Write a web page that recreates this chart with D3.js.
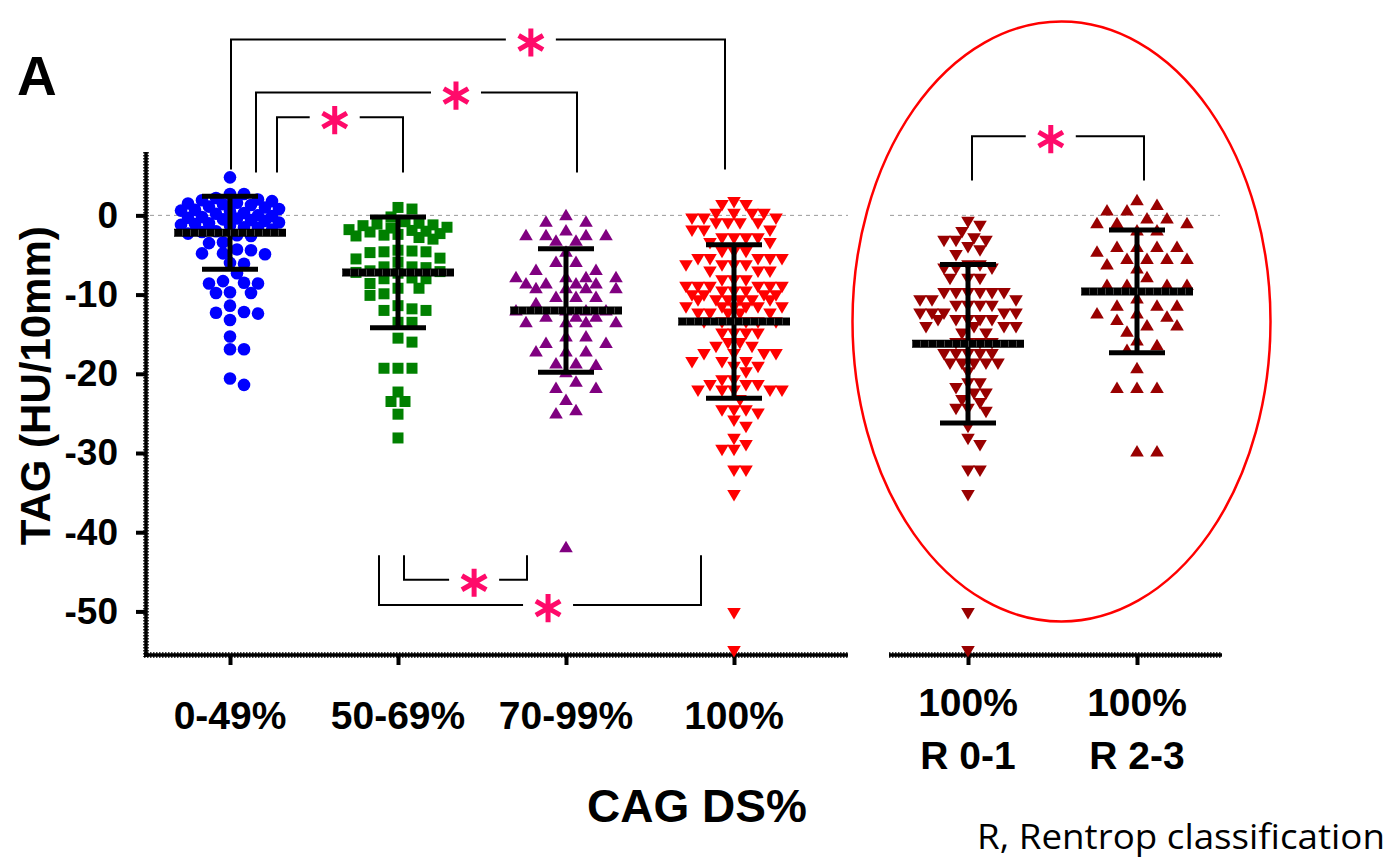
<!DOCTYPE html>
<html>
<head>
<meta charset="utf-8">
<script src="https://cdn.jsdelivr.net/npm/d3@7"></script>
<style>
body { margin: 0; background: #fff; }
svg { display: block; font-family: "Liberation Sans", Arial, sans-serif; }
</style>
</head>
<body>
<div id="chart"></div>
<script>
// --- data (TAG, HU/10mm)
const leftCats = ['0-49%', '50-69%', '70-99%', '100%'];
const rightCats = ['R 0-1', 'R 2-3'];
const rightLabels = [['100%', 'R 0-1'], ['100%', 'R 2-3']];
const yTicks = [0, -10, -20, -30, -40, -50];

const tag049 = [4.8, 2.7, 2.7, 1.5, 1.9,
    2.2, 2.0, 1.8, 1.6, 1.3, 1.1, 1.0, 0.8, 0.6, 0.5, 0.3, 0.2, 0.0, -0.1, -0.3, -0.4, -0.6, -0.7,
    -0.9, -1.0, -1.2, -1.3, -1.5, -1.6, -1.8, -2.0, -2.1, -2.3, -2.5, -2.6, -0.5, 0.7, 1.4, -1.1, -0.2,
    -3.5, -3.4, -4.4, -4.3, -4.8, -4.8, -4.9, -6.1, -6.0, -7.3, -8.3, -8.6, -8.6, -8.5, -9.8, -9.8, -9.7,
    -11.4, -12.3, -12.2, -12.4, -13.2, -15.3, -16.9, -16.9, -20.6, -21.4];
const tag5069 = [1.0, 0.8, -0.2,
    -0.8, -1.0, -1.2, -1.3, -1.5, -1.6, -1.8, -2.0, -2.1, -2.3, -2.5, -2.6, -2.8, -3.0, -1.1, -1.9, -2.4,
    -4.6, -4.5, -4.7, -4.6, -4.4, -5.5, -5.4, -5.9, -6.5, -6.5, -6.6, -7.2, -7.1, -7.3, -7.0,
    -8.0, -8.0, -7.9, -8.6, -9.2, -9.2, -9.9, -10.1, -11.4, -11.8, -12.0, -12.0, -13.5, -13.5,
    -15.5, -16.0, -19.3, -19.3, -19.3, -22.3, -23.5, -23.5, -25.1, -28.1];
const tag7099 = [0.0, -0.8, -0.8, -1.9, -2.5, -2.5, -2.5, -2.5, -3.2, -3.2, -4.6, -5.9, -5.9, -6.9, -6.9,
    -7.8, -7.8, -7.8, -7.8, -8.6, -8.6, -8.6, -8.6, -9.2, -9.2, -9.2, -9.2, -10.3, -10.3, -10.3, -11.1,
    -12.0, -12.0, -12.0, -12.0, -12.8, -12.8, -12.8, -13.5, -13.5, -13.5, -13.5, -15.3, -15.3,
    -16.1, -16.1, -17.2, -17.2, -17.2, -18.7, -18.7, -18.9, -19.8, -21.0, -21.8, -21.8, -23.3, -24.6, -25.0, -41.9];
const tag100 = [1.7, 1.3, 1.3, 0.2, 0.2, 0.2, 0.2, -0.4, -0.4, -0.4, -1.0, -1.0, -1.0, -1.0, -1.9, -1.9, -1.9,
    -2.9, -2.9, -2.9, -2.9, -3.5, -3.5, -4.6, -4.6, -4.6, -5.5, -5.5, -5.5, -5.5, -5.5, -6.3, -6.3, -6.3, -6.3,
    -7.1, -7.1, -7.1, -8.2, -8.2, -8.2, -9.0, -9.0, -9.0, -9.0, -9.0, -9.0, -9.6, -9.6, -9.6,
    -10.1, -10.1, -10.1, -10.1, -10.7, -10.7, -10.7, -10.7, -10.7, -10.7, -11.6, -11.6, -11.6, -11.6, -11.6, -11.6,
    -12.4, -12.4, -12.4, -12.4, -12.4, -13.5, -13.5, -13.5, -13.5, -13.5, -13.5, -14.9, -14.9, -14.9, -14.9,
    -16.1, -16.1, -16.6, -16.6, -17.5, -17.5, -17.5, -17.5, -18.5, -18.5, -18.5, -19.1, -19.1, -19.8,
    -20.8, -20.8, -21.4, -21.4, -21.4, -22.1, -22.1, -22.1, -22.1, -22.1, -23.3, -24.6, -24.6, -24.6, -25.0,
    -25.9, -26.7, -28.2, -29.0, -29.6, -29.6, -32.2, -32.2, -35.3, -50.2, -55.0];
const tagR01 = [-0.8, -1.3, -2.1, -2.9, -3.2, -3.2, -3.2, -4.0, -4.4, -5.0, -6.3, -6.3, -6.7, -6.7, -6.7,
    -8.0, -8.0, -8.0, -9.8, -9.8, -9.8, -9.8, -9.8, -9.8, -10.7, -10.7, -10.7, -11.4, -11.4, -11.4, -11.4,
    -12.4, -12.4, -12.4, -12.4, -12.4, -13.2, -13.2, -13.2, -13.2, -13.2, -14.1, -14.1, -14.1, -14.1, -14.9, -14.9,
    -16.1, -16.1, -16.1, -16.1, -17.5, -17.5, -17.5, -17.5, -17.5, -18.7, -18.7, -18.7, -18.7, -18.7, -19.8,
    -21.2, -21.2, -21.8, -22.5, -22.5, -23.3, -23.7, -24.4, -24.4, -24.8, -26.7, -28.2, -29.0, -32.2, -32.2,
    -35.3, -50.2, -55.0];
const tagR23 = [1.9, 1.3, 0.6, 0.6, -0.4, -0.4, -1.0, -1.0, -1.0, -1.9, -1.9, -4.0, -4.0, -4.0, -4.0, -4.6,
    -5.5, -5.5, -5.5, -5.5, -6.2, -6.7, -7.8, -8.8, -8.8, -8.8, -8.8, -10.5, -11.4, -11.4, -11.4,
    -12.4, -12.4, -12.8, -13.2, -13.9, -13.9, -14.7, -15.8, -16.4, -17.0, -19.3, -21.8, -21.8, -21.8, -29.8, -29.8];

const groupMeans = [-2.2, -7.2, -12.0, -13.4, -16.2, -9.6];
const groupSDs = [4.6, 7.0, 7.8, 9.7, 10.0, 7.75];

// significance brackets: [from, to, offset from, offset to, level, leg end, star position]
const topBrackets = [
    ['0-49%', '100%', 1, -9, 22.2, 5.8, 0.607],
    ['0-49%', '70-99%', 26, 11, 15.5, 5.4, 0.623],
    ['0-49%', '50-69%', 47, 5, 12.4, 5.4, 0.458],
];
const bottomBrackets = [
    ['50-69%', '70-99%', 6, -39, -46.0, -42.9, 0.57],
    ['50-69%', '100%', -19, -33, -49.2, -42.9, 0.525],
];
const rightBracket = ['R 0-1', 'R 2-3', 4, 7, 10.0, 4.4, 0.458];

// --- layout
const W = 1394, H = 861;
const svg = d3.select('#chart').append('svg').attr('width', W).attr('height', H);

const y = d3.scaleLinear().domain([-55.5, 8]).range([655, 152]);
const xL = d3.scalePoint().domain(leftCats).range([146, 818]).padding(0.5);
const xR = d3.scalePoint().domain(rightCats).range([883.5, 1221.5]).padding(0.5);

const groups = [
    { cat: leftCats[0], x: xL, data: tag049, color: '#0000ff', shape: 'circle', step: 7, diam: 11 },
    { cat: leftCats[1], x: xL, data: tag5069, color: '#008000', shape: 'square', step: 7, diam: 11 },
    { cat: leftCats[2], x: xL, data: tag7099, color: '#800080', shape: 'up', step: 10, diam: 13 },
    { cat: leftCats[3], x: xL, data: tag100, color: '#ff0000', shape: 'down', step: 6, diam: 10 },
    { cat: rightCats[0], x: xR, data: tagR01, color: '#990000', shape: 'down', step: 6, diam: 10.5 },
    { cat: rightCats[1], x: xR, data: tagR23, color: '#990000', shape: 'up', step: 10, diam: 13 },
];

const shapes = {
    circle: d3.symbol().type(d3.symbolCircle).size(Math.PI * 6.3 * 6.3)(),
    square: 'M-5.5,-5.5H5.5V5.5H-5.5Z',
    up: 'M0,-6.5L6.8,5L-6.8,5Z',
    down: 'M0,6.5L6.8,-5L-6.8,-5Z',
};

// column scatter: each point takes the free slot nearest the centre,
// width capped (overlap where the column is crowded)
function swarm(values, cx, step, diam, maxHalf) {
    const pts = values.map(v => ({ v, py: y(v) })).sort((a, b) => a.py - b.py);
    const offs = [0];
    for (let k = 1; k * step <= maxHalf; k++) offs.push(k * step, -k * step);
    const placed = [];
    pts.forEach(p => {
        let best = cx, bestD = -1;
        for (const off of offs) {
            const px = cx + off;
            let dmin = Infinity;
            placed.forEach(q => {
                if (Math.abs(q.py - p.py) < diam) dmin = Math.min(dmin, Math.hypot(q.px - px, q.py - p.py));
            });
            if (dmin >= diam) { best = px; break; }
            if (dmin > bestD) { bestD = dmin; best = px; }
        }
        p.px = best;
        placed.push(p);
    });
    return pts;
}

// red ellipse around the Rentrop panel
const ellCx = (xR(rightCats[0]) + xR(rightCats[1])) / 2 + 9;
svg.append('ellipse')
    .attr('cx', ellCx).attr('cy', y(-13.4))
    .attr('rx', 209).attr('ry', 300)
    .attr('fill', 'none').attr('stroke', '#ff0000').attr('stroke-width', 2.5);

// zero reference lines
[[150, 848], [890, 1220]].forEach(r => {
    svg.append('line')
        .attr('x1', r[0]).attr('x2', r[1]).attr('y1', y(0)).attr('y2', y(0))
        .attr('stroke', '#999').attr('stroke-width', 1).attr('stroke-dasharray', '4,4');
});

// --- axes
function thickLine(x1, y1, x2, y2) {
    svg.append('line').attr('x1', x1).attr('y1', y1).attr('x2', x2).attr('y2', y2)
        .attr('stroke', '#000').attr('stroke-width', 3.5);
    svg.append('line').attr('x1', x1).attr('y1', y1).attr('x2', x2).attr('y2', y2)
        .attr('stroke', '#000').attr('stroke-width', 6).attr('stroke-dasharray', '1.5,1.5').attr('opacity', 0.75);
}

const yAxis = d3.axisLeft(y).tickValues(yTicks).tickSize(10).tickPadding(18).tickFormat(d => String(d));
const gy = svg.append('g').attr('transform', 'translate(146,0)').call(yAxis);
gy.select('.domain').remove();
gy.selectAll('.tick line').attr('stroke-width', 4);
gy.selectAll('.tick text').attr('font-size', 37).attr('font-weight', 'bold').attr('fill', '#000')
    .attr('font-family', '"Liberation Sans", Arial, sans-serif');
thickLine(146, 152, 146, 657);

const xAxisL = d3.axisBottom(xL).tickSize(10).tickFormat('');
const gxL = svg.append('g').attr('transform', 'translate(0,655)').call(xAxisL);
gxL.select('.domain').remove();
gxL.selectAll('.tick line').attr('stroke-width', 4);
thickLine(144, 655, 848, 655);

const xAxisR = d3.axisBottom(xR).tickSize(10).tickFormat('');
const gxR = svg.append('g').attr('transform', 'translate(0,655)').call(xAxisR);
gxR.select('.domain').remove();
gxR.selectAll('.tick line').attr('stroke-width', 4);
thickLine(889, 655, 1222, 655);

// --- points
groups.forEach(g => {
    const cx = g.x(g.cat);
    const pts = swarm(g.data, cx, g.step, g.diam, 52);
    svg.append('g').selectAll('path').data(pts).join('path')
        .attr('d', shapes[g.shape])
        .attr('transform', d => `translate(${d.px},${d.py})`)
        .attr('fill', g.color);
});

// --- mean and SD
groups.forEach((g, i) => {
    const cx = g.x(g.cat);
    const m = groupMeans[i], s = groupSDs[i];
    const eg = svg.append('g').attr('stroke', '#000');
    eg.append('line').attr('x1', cx).attr('x2', cx).attr('y1', y(m + s)).attr('y2', y(m - s)).attr('stroke-width', 5);
    [m + s, m - s].forEach(v => {
        eg.append('line').attr('x1', cx - 28).attr('x2', cx + 28).attr('y1', y(v)).attr('y2', y(v)).attr('stroke-width', 5);
    });
    eg.append('line').attr('x1', cx - 56).attr('x2', cx + 56).attr('y1', y(m)).attr('y2', y(m)).attr('stroke-width', 8);
    eg.append('line').attr('x1', cx - 56).attr('x2', cx + 56).attr('y1', y(m)).attr('y2', y(m))
        .attr('stroke', '#444').attr('stroke-width', 6).attr('stroke-dasharray', '1,7');
});

// --- significance brackets
const star = d3.symbol().type(d3.symbolAsterisk).size(560);
function bracket(b, x, gap) {
    const x1 = x(b[0]) + b[2], x2 = x(b[1]) + b[3];
    const yl = y(b[4]), ye = y(b[5]);
    const sx = x1 + (x2 - x1) * b[6];
    const bg = svg.append('g').attr('fill', 'none').attr('stroke', '#000').attr('stroke-width', 2);
    bg.append('path').attr('d', `M${x1},${ye}V${yl}H${sx - gap}`);
    bg.append('path').attr('d', `M${sx + gap},${yl}H${x2}V${ye}`);
    svg.append('path').attr('d', star())
        .attr('transform', `translate(${sx},${yl + 3})`)
        .attr('stroke', '#ff0a6a').attr('stroke-width', 5).attr('fill', 'none');
}
topBrackets.forEach(b => bracket(b, xL, 25));
bottomBrackets.forEach(b => bracket(b, xL, 25));
bracket(rightBracket, xR, 25);

// --- text
const bold = sel => sel.attr('font-weight', 'bold').attr('fill', '#000');

svg.append('text').text('A').attr('x', 17).attr('y', 95).attr('font-size', 55).call(bold);

svg.append('text').text('TAG (HU/10mm)')
    .attr('transform', `translate(50,${y(-21.5)}) rotate(-90)`)
    .attr('text-anchor', 'middle').attr('font-size', 42).call(bold);

svg.append('g').selectAll('text').data(leftCats).join('text')
    .attr('x', d => xL(d)).attr('y', 729)
    .attr('text-anchor', 'middle').attr('font-size', 39).call(bold)
    .text(d => d);

const rl = svg.append('g').selectAll('text').data(rightCats).join('text')
    .attr('text-anchor', 'middle').attr('font-size', 39).call(bold);
rl.selectAll('tspan').data((d, i) => rightLabels[i].map(t => ({ t, d }))).join('tspan')
    .attr('x', d => xR(d.d)).attr('y', (d, j) => 716 + j * 53)
    .text(d => d.t);

svg.append('text').text('CAG DS%').attr('x', 697).attr('y', 822)
    .attr('text-anchor', 'middle').attr('font-size', 46).call(bold);

svg.append('text').text('R, Rentrop classification').attr('x', 1385).attr('y', 849)
    .attr('text-anchor', 'end').attr('font-size', 34).attr('fill', '#000')
    .attr('textLength', 408).attr('lengthAdjust', 'spacingAndGlyphs')
    .attr('font-family', '"Open Sans", "Noto Sans", sans-serif');
</script>
</body>
</html>
